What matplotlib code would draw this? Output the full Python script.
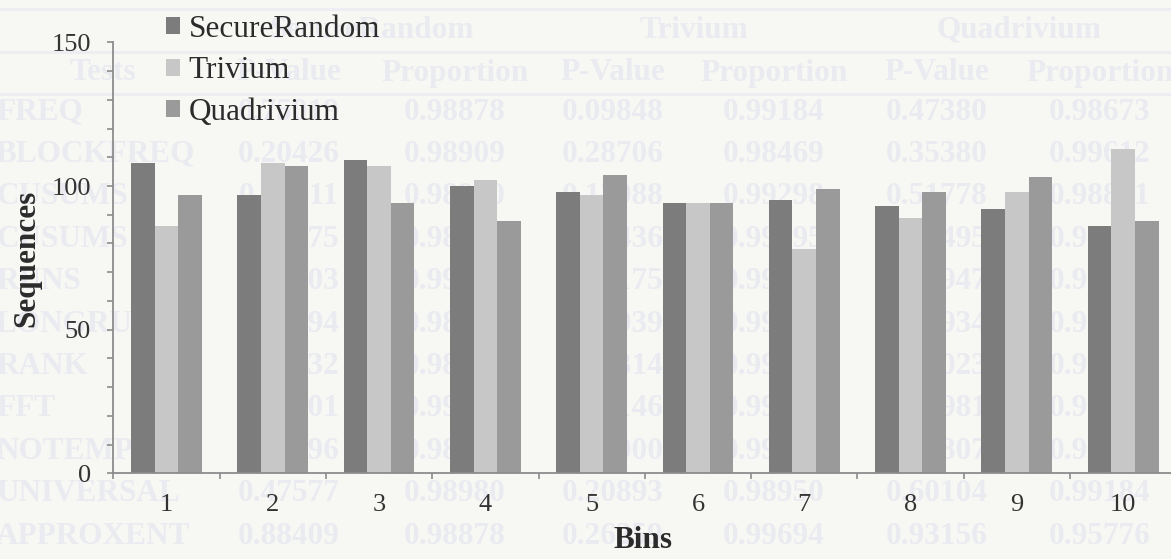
import matplotlib.pyplot as plt
from matplotlib.ticker import FixedLocator, MultipleLocator, NullFormatter
import numpy as np

# counts per bin for each generator
bins = [1, 2, 3, 4, 5, 6, 7, 8, 9, 10]
securerandom = [108, 97, 109, 100, 98, 94, 95, 93, 92, 86]
trivium = [86, 108, 107, 102, 97, 94, 78, 89, 98, 113]
quadrivium = [97, 107, 94, 88, 104, 94, 99, 98, 103, 88]

# faint table printed on the same page (shows through the paper)
table_groups = ['SecureRandom', 'Trivium', 'Quadrivium']
table_cols = ['Tests', 'P-Value', 'Proportion', 'P-Value', 'Proportion', 'P-Value', 'Proportion']
table_rows = [
    ['FREQ', '0.75019', '0.98878', '0.09848', '0.99184', '0.47380', '0.98673'],
    ['BLOCKFREQ', '0.20426', '0.98909', '0.28706', '0.98469', '0.35380', '0.99612'],
    ['CUSUMS', '0.60311', '0.98980', '0.13988', '0.99298', '0.51778', '0.98891'],
    ['CUSUMS', '0.74875', '0.98980', '0.03436', '0.99195', '0.40495', '0.98819'],
    ['RUNS', '0.64903', '0.99184', '0.33175', '0.99086', '0.35947', '0.98877'],
    ['LONGRUN', '0.57094', '0.98878', '0.49939', '0.99083', '0.09934', '0.99082'],
    ['RANK', '0.46632', '0.98980', '0.58314', '0.99077', '0.49023', '0.98980'],
    ['FFT', '0.33901', '0.99184', '0.09146', '0.99081', '0.20981', '0.99184'],
    ['NOTEMP', '0.51296', '0.98878', '0.24900', '0.99016', '0.37807', '0.98859'],
    ['UNIVERSAL', '0.47577', '0.98980', '0.20893', '0.98950', '0.60104', '0.99184'],
    ['APPROXENT', '0.88409', '0.98878', '0.26259', '0.99694', '0.93156', '0.95776'],
]

W, H = 1171, 559
bg = '#f7f7f4'
ghost = '#eaebf1'
ink = '#2b2b2b'
serif = ['Liberation Serif', 'DejaVu Serif']

fig = plt.figure(figsize=(W / 100, H / 100), dpi=100, facecolor=bg)

def px(x, y):
    return x / W, 1 - y / H

# background table
col_x = [-4, 289, 455, 613, 774, 937, 1100]
for i, name in enumerate(table_groups):
    gx = (col_x[1 + 2 * i] + col_x[2 + 2 * i]) / 2
    fig.text(*px(gx, 30), name, ha='center', va='center', fontsize=22.5,
             fontweight='bold', color=ghost, family=serif, zorder=0)
for j, c in enumerate(table_cols):
    xx = 103 if j == 0 else col_x[j]
    fig.text(*px(xx, 73), c, ha='center', va='center', fontsize=22.5,
             fontweight='bold', color=ghost, family=serif, zorder=0)
for i, row in enumerate(table_rows):
    yy = 112 + 42.4 * i
    for j, v in enumerate(row):
        fig.text(*px(col_x[j], yy), v, ha='left' if j == 0 else 'center',
                 va='center', fontsize=22.5, fontweight='bold', color=ghost,
                 family=serif, zorder=0)
for ly in [9, 52, 94]:
    fig.add_artist(plt.Line2D([0, 1], [1 - ly / H] * 2, color='#eeeef2', lw=2, zorder=0))

# chart
x0, y0, y1 = 113.3, 473.3, 42.4
ax = fig.add_axes([x0 / W, 1 - y0 / H, (W - x0) / W, (y0 - y1) / H])
ax.set_facecolor('none')
ax.set_zorder(2)

x = np.array(bins)
w = 1 / 4.5
ax.bar(x - w, securerandom, w, color='#7c7c7c', label='SecureRandom')
ax.bar(x, trivium, w, color='#c7c7c7', label='Trivium')
ax.bar(x + w, quadrivium, w, color='#9a9a9a', label='Quadrivium')

step = 106.3
ax.set_xlim(0.5, 0.5 + (W - x0) / step)
ax.set_ylim(0, 150)

for s in ['top', 'right']:
    ax.spines[s].set_visible(False)
for s in ['left', 'bottom']:
    ax.spines[s].set_color('#8c8c8c')
    ax.spines[s].set_linewidth(1.3)

ax.yaxis.set_major_locator(FixedLocator([0, 50, 100, 150]))
ax.yaxis.set_minor_locator(MultipleLocator(10))
ax.tick_params(axis='y', which='both', direction='out', length=4, width=1.2,
               color='#8c8c8c', labelsize=19, pad=12, labelcolor='#333333')

ax.xaxis.set_major_locator(FixedLocator(np.arange(0.5, 11, 1)))
ax.xaxis.set_major_formatter(NullFormatter())
ax.set_xticks(bins, [str(b) for b in bins], minor=True)
ax.tick_params(axis='x', which='major', direction='out', length=4.5, width=1.2,
               color='#8c8c8c')
ax.tick_params(axis='x', which='minor', length=0, labelsize=19, pad=15,
               labelcolor='#333333')
for lab in ax.get_xticklabels(minor=True) + ax.get_yticklabels():
    lab.set_family(serif)

fig.text(*px(27, 258), 'Sequences', rotation=90, ha='center', va='center',
         fontsize=22.5, fontweight='bold', family=serif, color=ink)
fig.text(*px(643, 541), 'Bins', ha='center', va='center',
         fontsize=22.5, fontweight='bold', family=serif, color=ink)

leg = fig.legend(loc='center left', bbox_to_anchor=px(166, 71), frameon=False,
                 prop={'family': serif, 'size': 22.5}, handlelength=0.45,
                 handleheight=0.45, handletextpad=0.28, labelspacing=0.4,
                 borderpad=0, borderaxespad=0)
for t in leg.get_texts():
    t.set_color(ink)

fig.savefig('out.png', dpi=100, facecolor=bg)
